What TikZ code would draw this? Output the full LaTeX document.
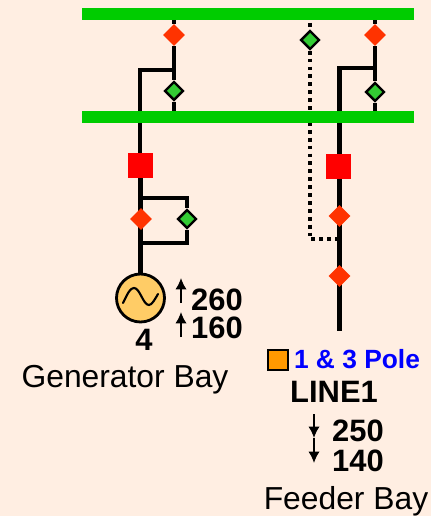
\documentclass[tikz,border=0pt]{standalone}
\usepackage{xcolor}
\usepackage{fontspec}
\setmainfont{Liberation Sans}
\usepackage{tikz}
\usetikzlibrary{shapes.geometric,arrows.meta}
\pgfdeclarelayer{wires}
\pgfsetlayers{wires,main}
\definecolor{bgcol}{HTML}{FFEEE2}
\definecolor{buscol}{HTML}{00CC00}
\definecolor{opencol}{HTML}{33CC33}
\definecolor{closedcol}{HTML}{FF3300}
\definecolor{gencol}{HTML}{FFCC66}
\definecolor{flagcol}{HTML}{FF9900}
\tikzset{
  busbar/.style={rectangle,fill=buscol,minimum width=6.64cm,minimum height=0.24cm,inner sep=0pt},
  breaker/.style={rectangle,fill=red,minimum size=0.5cm,inner sep=0pt},
  closedsw/.style={diamond,fill=closedcol,minimum size=0.44cm,inner sep=0pt},
  opensw/.style={diamond,draw=black,line width=1.4pt,fill=opencol,minimum size=0.38cm,inner sep=0pt},
  gensym/.style={circle,draw=black,line width=1.6pt,fill=gencol,minimum size=0.96cm,inner sep=0pt},
  flagbox/.style={rectangle,draw=black,line width=0.9pt,fill=flagcol,minimum size=0.4cm,inner sep=0pt},
  wire/.style={line width=2.5pt,line cap=butt},
  dotwire/.style={line width=2.3pt,dash pattern=on 2.2pt off 2.3pt},
  flow/.style={line width=1pt,-{Latex[length=6.5pt,width=6.5pt]}},
  val/.style={font=\fontsize{17.6}{20}\selectfont\bfseries,inner sep=0pt},
  bay/.style={font=\fontsize{18.1}{20}\selectfont,inner sep=0pt}
}
\begin{document}
\begin{tikzpicture}[x=0.02cm,y=-0.02cm]
\begin{pgfonlayer}{wires}
  \fill[bgcol] (0,0) rectangle (431,516);
\end{pgfonlayer}
  % busbars
  \node[busbar] (busTop) at (248,14) {};
  \node[busbar] (busLow) at (248,117) {};
  % generator bay
  \node[closedsw] (swA) at (174,35) {};
  \node[opensw] (gsA) at (174,91) {};
  \coordinate (jnA) at (174,70);
  \coordinate (cnA) at (140,70);
  \node[breaker] (cbA) at (140.5,165.5) {};
  \node[closedsw] (swB) at (141,219) {};
  \node[opensw] (gsB) at (187,219) {};
  \coordinate (jnB) at (140,198);
  \coordinate (cnB) at (187,198);
  \coordinate (jnC) at (140,243);
  \coordinate (cnC) at (187,243);
  \node[gensym] (gen) at (140.5,298) {};
  \draw[line width=1.2pt,line cap=round] (123,303) .. controls (128,293) and (130,288) .. (134,288)
    .. controls (140,288) and (143,305) .. (149,305) .. controls (152,305) and (155,299) .. (158,294);
  \node[val] (genNum) at (144,340) {4};
  \coordinate (arA1) at (181,303);
  \coordinate (arA2) at (181,278);
  \coordinate (arB1) at (181,337);
  \coordinate (arB2) at (181,312);
  \node[val] (genP) at (217,300) {260};
  \node[val] (genQ) at (217,328) {160};
  \node[bay] (genBay) at (125,380) {Generator Bay};
  % feeder bay
  \node[closedsw] (swC) at (375,35) {};
  \node[opensw] (gsC) at (375,92) {};
  \node[opensw] (gsD) at (310,40) {};
  \coordinate (jnD) at (375,68);
  \coordinate (cnD) at (339.5,68);
  \coordinate (dotTop) at (310,23);
  \coordinate (dotBot) at (310,239);
  \coordinate (dotEnd) at (338,239);
  \node[breaker] (cbB) at (338.5,166.5) {};
  \node[closedsw] (swD) at (339.5,216) {};
  \node[closedsw] (swE) at (339.5,276) {};
  \coordinate (lineEnd) at (339.5,331);
  \node[flagbox] (flag) at (278,360) {};
  \node[font=\fontsize{15}{18}\selectfont\bfseries,text=blue,inner sep=0pt] (pole) at (357,359) {1 \& 3 Pole};
  \node[val] (lineName) at (334,392) {LINE1};
  \coordinate (arC1) at (314,414);
  \coordinate (arC2) at (314,438);
  \coordinate (arD1) at (314,438);
  \coordinate (arD2) at (314,463);
  \node[val] (lineP) at (358,431) {250};
  \node[val] (lineQ) at (358,461) {140};
  \node[bay] (lineBay) at (346,501) {Feeder Bay};
\begin{pgfonlayer}{wires}
  \draw[wire] (swA) -- (swA |- busTop);
  \draw[wire] (swA) -- (gsA);
  \draw[wire] (gsA) -- (gsA |- busLow);
  \draw[wire] (jnA) -- (cnA) -- (cnA |- cbA);
  \draw[wire] (cbA) -- (gen);
  \draw[wire] (jnB) -- (cnB) -- (gsB);
  \draw[wire] (gsB) -- (cnC) -- (jnC);
  \draw[wire] (swC) -- (swC |- busTop);
  \draw[wire] (swC) -- (gsC);
  \draw[wire] (gsC) -- (gsC |- busLow);
  \draw[wire] (jnD) -- (cnD) -- (lineEnd);
  \draw[dotwire] (dotTop) -- (gsD);
  \draw[dotwire] (gsD) -- (dotBot) -- (dotEnd);
\end{pgfonlayer}
  \draw[flow] (arA1) -- (arA2);
  \draw[flow] (arB1) -- (arB2);
  \draw[flow] (arC1) -- (arC2);
  \draw[flow] (arD1) -- (arD2);
\end{tikzpicture}
\end{document}
